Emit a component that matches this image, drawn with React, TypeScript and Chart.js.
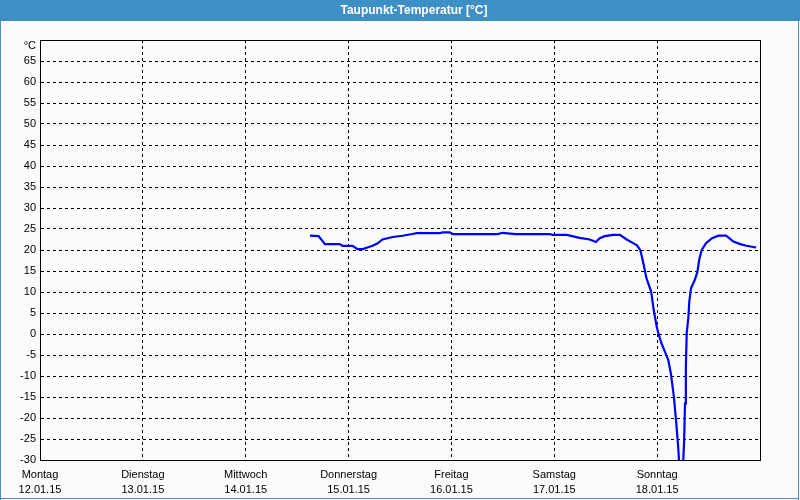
import { useEffect, useRef } from "react";
import { Chart, registerables } from "chart.js";

Chart.register(...registerables);

const TITLE = "Taupunkt-Temperatur [°C]";
const UNIT = "°C";
const DAY_NAMES = ["Montag", "Dienstag", "Mittwoch", "Donnerstag", "Freitag", "Samstag", "Sonntag"];
const DAY_DATES = ["12.01.15", "13.01.15", "14.01.15", "15.01.15", "16.01.15", "17.01.15", "18.01.15"];

// hours since Monday 12.01.15 00:00
const HOURS = [
  63.0, 65.0, 66.5, 69.9, 70.6, 72.9, 74.1, 75.3, 76.4, 77.6, 78.8, 79.9, 82.3, 84.6, 86.9, 87.9,
  93.2, 94.0, 95.6, 96.3, 102.6, 106.8, 107.9, 111.0, 118.9, 119.6, 122.9, 125.9, 128.3, 129.7,
  130.6, 131.8, 133.7, 135.3, 136.9, 138.3, 139.3, 140.1, 140.8, 141.5, 142.6, 143.2, 143.9, 144.4,
  145.0, 145.8, 146.6, 147.2, 147.9, 148.4, 148.9, 149.1, 149.6, 150.1, 150.3, 150.5, 150.7, 150.9,
  151.3, 151.5, 151.9, 152.8, 153.4, 153.8, 154.4, 155.4, 156.8, 158.3, 160.1, 161.8, 163.4, 164.8,
  167.1,
];
const DEWPOINT = [
  23.4, 23.3, 21.4, 21.4, 21.0, 21.0, 20.2, 20.2, 20.6, 21.0, 21.6, 22.5, 23.1, 23.4, 23.8, 24.0,
  24.0, 24.2, 24.2, 23.8, 23.8, 23.8, 24.1, 23.8, 23.8, 23.6, 23.6, 22.9, 22.5, 21.9,
  22.8, 23.3, 23.6, 23.6, 22.5, 21.7, 21.1, 19.9, 16.8, 13.3, 10.1, 5.7, 1.7, -0.2,
  -2.2, -4.2, -6.2, -9.4, -14.9, -20.5, -26.8, -30.0, -36.0, -30.0, -25.2, -16.5, -7.8, 0.2,
  4.1, 7.7, 10.9, 12.9, 14.8, 17.6, 20.0, 21.6, 22.8, 23.4, 23.4, 22.0, 21.4, 21.0,
  20.6,
];

const Y_MIN = -30;
const Y_MAX = 70;
const Y_STEP = 5;
const X_MAX = 168;
const X_STEP = 24;

const FONT = "'Liberation Sans', Arial, sans-serif";

const chromePlugin = {
  id: "chrome",
  beforeDraw(chart: any) {
    const ctx = chart.ctx;
    const w = chart.width;
    const h = chart.height;
    ctx.save();
    ctx.fillStyle = "#fafcf9";
    ctx.fillRect(0, 0, w, h);
    ctx.fillStyle = "#3d8fc6";
    ctx.fillRect(0, 0, w, 21);
    ctx.fillStyle = "#4d8dbf";
    ctx.fillRect(0, 21, 1, h - 21);
    ctx.fillRect(798, 21, 1, h - 21);
    ctx.fillRect(0, 498, 799, 1);
    ctx.fillStyle = "#ffffff";
    ctx.font = `bold 12px ${FONT}`;
    ctx.textAlign = "center";
    ctx.textBaseline = "middle";
    ctx.fillText(TITLE, 414, 11);
    ctx.restore();
  },
  afterDraw(chart: any) {
    const ctx = chart.ctx;
    const a = chart.chartArea;
    ctx.save();
    ctx.strokeStyle = "#000000";
    ctx.lineWidth = 1;
    ctx.setLineDash([]);
    ctx.strokeRect(Math.round(a.left) + 0.5, Math.round(a.top) + 0.5, Math.round(a.right - a.left), Math.round(a.bottom - a.top));
    ctx.fillStyle = "#000000";
    ctx.font = `11px ${FONT}`;
    ctx.textAlign = "right";
    ctx.textBaseline = "middle";
    ctx.fillText(UNIT, 36, 46);
    ctx.restore();
  },
};

export default function App() {
  const ref = useRef<HTMLCanvasElement | null>(null);

  useEffect(() => {
    if (!ref.current) return;
    const points = HOURS.map((x, i) => ({ x, y: DEWPOINT[i] }));
    const chart = new Chart(ref.current, {
      type: "line",
      data: {
        datasets: [
          {
            data: points,
            borderColor: "#0000ff",
            borderWidth: 2.2,
            pointRadius: 0,
            tension: 0,
            fill: false,
          },
        ],
      },
      options: {
        animation: false,
        responsive: false,
        maintainAspectRatio: false,
        layout: { padding: { top: 40, left: 0, right: 40, bottom: 0 } },
        plugins: {
          legend: { display: false },
          tooltip: { enabled: false },
          title: { display: false },
        },
        scales: {
          x: {
            type: "linear",
            min: 0,
            max: X_MAX,
            afterFit(scale: any) {
              scale.height = 40;
            },
            ticks: {
              stepSize: X_STEP,
              autoSkip: false,
              maxRotation: 0,
              minRotation: 0,
              padding: 7,
              color: "#000000",
              font: { family: FONT, size: 11, lineHeight: "15px" },
              callback: (v: any) => {
                const i = Math.round(Number(v) / X_STEP);
                return i < DAY_NAMES.length ? [DAY_NAMES[i], DAY_DATES[i]] : "";
              },
            },
            grid: {
              color: "#000000",
              lineWidth: 1,
              drawTicks: false,
            },
            border: { display: true, color: "#000000", dash: [3, 3] },
          },
          y: {
            type: "linear",
            min: Y_MIN,
            max: Y_MAX,
            afterFit(scale: any) {
              scale.width = 40;
            },
            ticks: {
              stepSize: Y_STEP,
              autoSkip: false,
              padding: 4,
              color: "#000000",
              font: { family: FONT, size: 11 },
              callback: (v: any) => (Number(v) === Y_MAX ? "" : String(v)),
            },
            grid: {
              color: "#000000",
              lineWidth: 1,
              drawTicks: false,
            },
            border: { display: true, color: "#000000", dash: [3, 3] },
          },
        },
      },
      plugins: [chromePlugin],
    });
    return () => chart.destroy();
  }, []);

  return (
    <div style={{ position: "fixed", left: 0, top: 0, width: 800, height: 500 }}>
      <canvas ref={ref} width={800} height={500} style={{ width: 800, height: 500, display: "block" }} />
    </div>
  );
}
